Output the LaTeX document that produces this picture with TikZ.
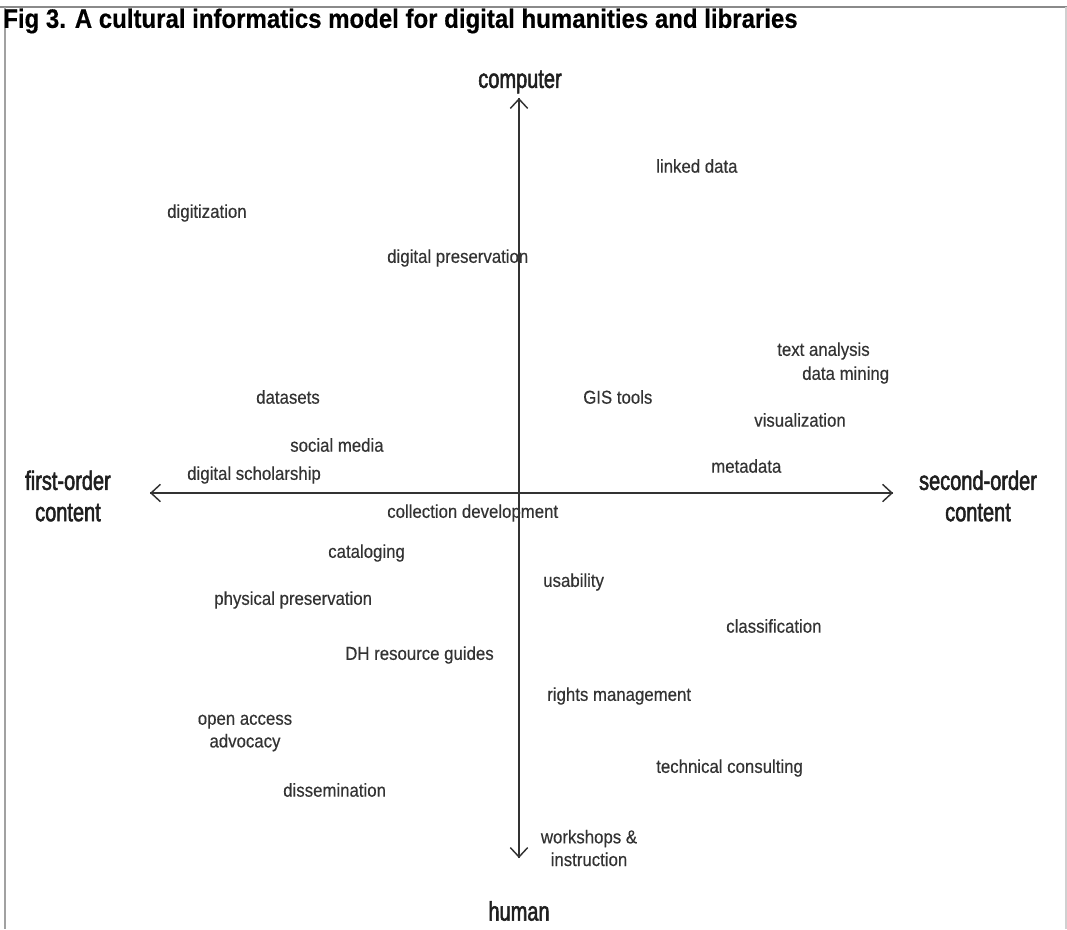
\documentclass[tikz,border=0pt]{standalone}
\usepackage{fontspec}
\setmainfont{Liberation Sans}[FakeStretch=0.9, FakeBold=0.4]
\newfontfamily\polefont{Liberation Sans}[FakeStretch=0.75, FakeBold=2]
\usepackage{tikz}
\usepackage{xcolor}
\usetikzlibrary{positioning, arrows.meta, calc}

\definecolor{inkgray}{HTML}{333333}
\definecolor{framegray}{HTML}{8A8A8A}

\begin{document}
\begin{tikzpicture}[
  x=0.75pt, y=-0.75pt,
  >={Straight Barb[length=7pt, width=13pt, line width=1.1pt]},
  every node/.style={font=\fontsize{14}{17}\selectfont, text=inkgray, inner sep=0pt},
  term/.style={anchor=west},
  pole/.style={font=\polefont\fontsize{20}{23.5}\selectfont, align=center, text=black!88},
  axis/.style={line width=1.5pt, inkgray}
]
\useasboundingbox (0,0) rectangle (1067,929);
% Frame
\draw[framegray, line width=1.6pt] (0,7) -- (1067,7);
\draw[framegray!80, line width=1.2pt] (5,7) -- (5,929);
\draw[framegray!40, line width=1.2pt] (1066,7) -- (1066,929);
% Title
\node[anchor=west, font=\fontsize{20}{23}\selectfont\bfseries, text=black] (title) at (3,21)
  {Fig 3. A cultural informatics model for digital humanities and libraries};

% Poles
\node[pole] (computer) at (520,82) {computer};
\node[pole] (human) at (519,911) {human};
\node[pole] (first) at (68,496) {first-order\\content};
\node[pole] (second) at (978,496) {second-order\\content};

% Axes
\coordinate (top) at (519,98);
\coordinate (bottom) at (519,858);
\coordinate (left) at (150,493);
\coordinate (right) at (893,493);
\draw[axis, ->] (bottom) -- (top);
\draw[axis, ->] (top) -- (bottom);
\draw[axis, ->] (right) -- (left);
\draw[axis, ->] (left) -- (right);

% Upper half
\node[term] (linked) at (656,166) {linked data};
\node[term] (digitization) at (167,213) {digitization};
\node[term] (digpres) at (387,258) {digital preservation};
\node[term] (textan) at (777,351) {text analysis};
\node[term] (mining) at (802,375) {data mining};
\node[term] (datasets) at (256,397) {datasets};
\node[term] (gis) at (583,397) {GIS tools};
\node[term] (vis) at (754,420) {visualization};
\node[term] (social) at (290,445) {social media};
\node[term] (metadata) at (711,466) {metadata};
\node[term] (scholarship) at (187,475) {digital scholarship};

% Lower half
\node[term] (colldev) at (387,513) {collection development};
\node[term] (cataloging) at (328,553) {cataloging};
\node[term] (usability) at (543,582) {usability};
\node[term] (physpres) at (214,600) {physical preservation};
\node[term] (classification) at (726,626) {classification};
\node[term] (guides) at (345,655) {DH resource guides};
\node[term] (rights) at (547,696) {rights management};
\node[align=center] (openaccess) at (245,733) {open access\\advocacy};
\node[term] (consulting) at (656,768) {technical consulting};
\node[term] (dissemination) at (283,790) {dissemination};
\node[align=center] (workshops) at (589,848) {workshops \&\\instruction};
\end{tikzpicture}
\end{document}
